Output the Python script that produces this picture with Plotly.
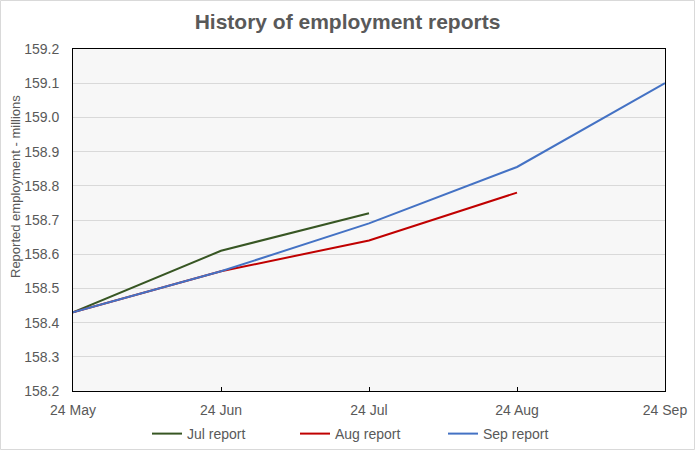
import plotly.graph_objects as go

months = ['24 May', '24 Jun', '24 Jul', '24 Aug', '24 Sep']
jul_report = [158.43, 158.61, 158.72]
aug_report = [158.43, 158.55, 158.64, 158.78]
sep_report = [158.43, 158.55, 158.69, 158.855, 159.10]

GREY = '#595959'
FONT = 'Liberation Sans, Arial, sans-serif'

# plot area in pixels: left 73, right 665, top 49, bottom 391
PW, PH = 592, 342


def make_line(name, values, color):
    return go.Scatter(
        x=list(range(len(values))),
        y=values,
        mode='lines',
        name=name,
        line=dict(color=color, width=2),
        hoverinfo='skip'
    )


data = [
    make_line('Jul report', jul_report, '#375623'),
    make_line('Aug report', aug_report, '#c00000'),
    make_line('Sep report', sep_report, '#4472c4'),
]

layout = go.Layout(
    width=695,
    height=450,
    autosize=False,
    margin=dict(l=73, r=30, t=49, b=59, autoexpand=False),
    paper_bgcolor='white',
    plot_bgcolor='#f7f7f7',
    font=dict(family=FONT, size=14, color=GREY),
    title=dict(
        text='<b>History of employment reports</b>',
        x=0.5, xanchor='center',
        y=1 - 22 / 450, yanchor='middle',
        font=dict(size=21, color=GREY, family=FONT)
    ),
    xaxis=dict(
        range=[0, 4],
        tickvals=list(range(len(months))),
        ticktext=months,
        showgrid=False,
        zeroline=False,
        ticks='inside',
        ticklen=4,
        tickcolor='black',
        showline=True,
        linecolor='black',
        linewidth=1,
        mirror=True,
        ticklabelstandoff=6,
        automargin=False,
        tickfont=dict(size=14, color=GREY)
    ),
    yaxis=dict(
        range=[158.2, 159.2],
        dtick=0.1,
        tickformat='.1f',
        showgrid=True,
        gridcolor='#d9d9d9',
        gridwidth=1,
        zeroline=False,
        showline=True,
        linecolor='black',
        linewidth=1,
        mirror=True,
        ticks='',
        ticklabelstandoff=10,
        automargin=False,
        tickfont=dict(size=14, color=GREY)
    ),
    legend=dict(
        orientation='h',
        x=0.5, xanchor='center',
        y=(391 - 434) / PH, yanchor='middle',
        font=dict(size=14, color=GREY),
        entrywidth=103,
        bgcolor='rgba(0,0,0,0)'
    ),
    annotations=[dict(
        text='Reported employment - millions',
        xref='paper', yref='paper',
        x=(15 - 73) / PW, y=(391 - 187) / PH,
        xanchor='center', yanchor='middle',
        textangle=-90, showarrow=False,
        font=dict(size=13, color=GREY)
    )],
    shapes=[dict(
        type='rect', xref='paper', yref='paper',
        x0=-72.5 / PW, x1=1 + 29.5 / PW,
        y0=-58.5 / PH, y1=1 + 48.5 / PH,
        line=dict(color='#d9d9d9', width=1),
        layer='below'
    )]
)

fig = go.Figure(data, layout)
fig.write_html('out.html', config=dict(displayModeBar=False),
               post_script="document.body.style.margin='0';")
